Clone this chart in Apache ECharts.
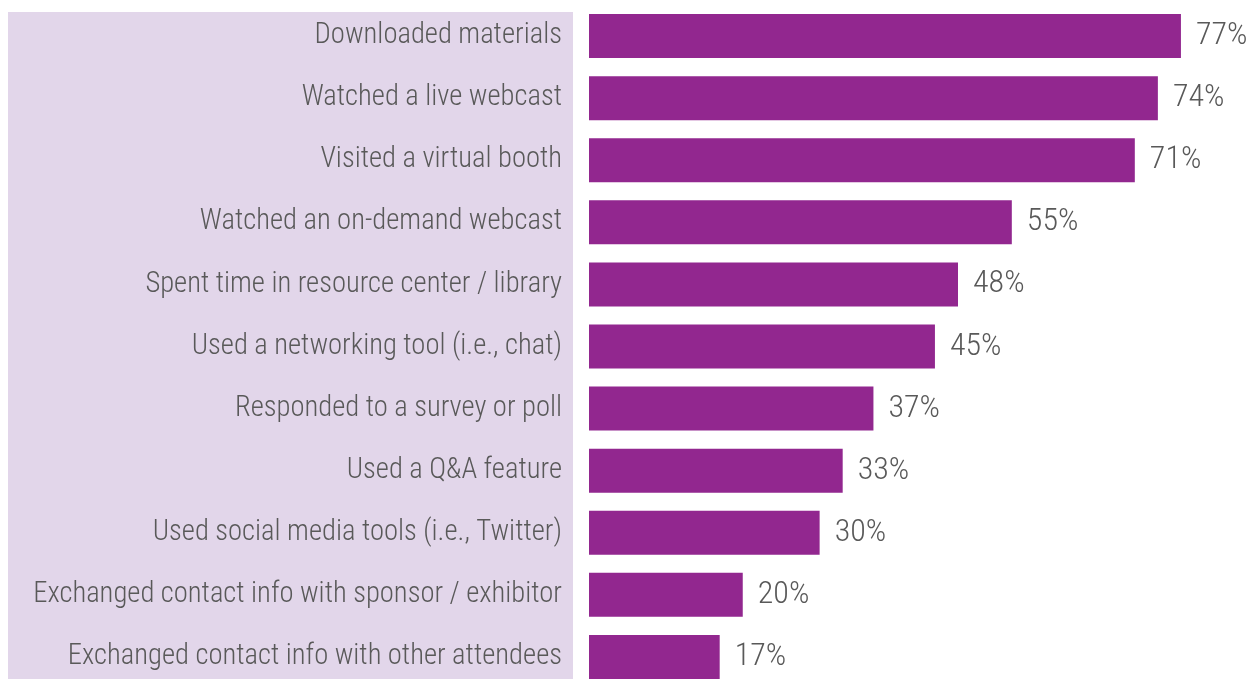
<!DOCTYPE html>
<html>
<head>
<meta charset="utf-8">
<script src="https://cdn.jsdelivr.net/npm/echarts@6/dist/echarts.min.js"></script>
<style>
  html, body { margin: 0; padding: 0; background: #ffffff; }
  #chart { width: 1252px; height: 679px; }
</style>
</head>
<body>
<div id="chart"></div>
<script>
// Virtual event activities and share of attendees who did each
const categories = [
  'Downloaded materials',
  'Watched a live webcast',
  'Visited a virtual booth',
  'Watched an on-demand webcast',
  'Spent time in resource center / library',
  'Used a networking tool (i.e., chat)',
  'Responded to a survey or poll',
  'Used a Q&A feature',
  'Used social media tools (i.e., Twitter)',
  'Exchanged contact info with sponsor / exhibitor',
  'Exchanged contact info with other attendees'
];
const values = [77, 74, 71, 55, 48, 45, 37, 33, 30, 20, 17];

const FONT = '"Roboto Condensed", "Liberation Sans", sans-serif';
const TEXT = '#595959';

const chart = echarts.init(document.getElementById('chart'));
chart.setOption({
  animation: false,
  graphic: [{
    type: 'rect',
    z: -10,
    shape: { x: 8, y: 12, width: 565, height: 667 },
    style: { fill: '#e2d6ea' }
  }],
  grid: {
    left: 589, right: 48, top: 5, height: 683,
    containLabel: false,
    outerBoundsMode: 'none'
  },
  xAxis: {
    type: 'value', min: 0, max: 80,
    show: false
  },
  yAxis: {
    type: 'category',
    inverse: true,
    data: categories,
    axisLine: { show: false },
    axisTick: { show: false },
    axisLabel: {
      margin: 27,
      color: TEXT,
      fontFamily: FONT,
      fontWeight: 300,
      fontSize: 28.6,
      padding: [7, 0, 0, 0]
    }
  },
  series: [{
    type: 'bar',
    data: values,
    barWidth: 44,
    itemStyle: { color: '#92278f' },
    label: {
      show: true,
      position: 'right',
      distance: 15,
      formatter: '{c}%',
      color: TEXT,
      fontFamily: FONT,
      fontWeight: 300,
      fontSize: 32,
      padding: [5, 0, 0, 0]
    }
  }]
});
</script>
</body>
</html>
